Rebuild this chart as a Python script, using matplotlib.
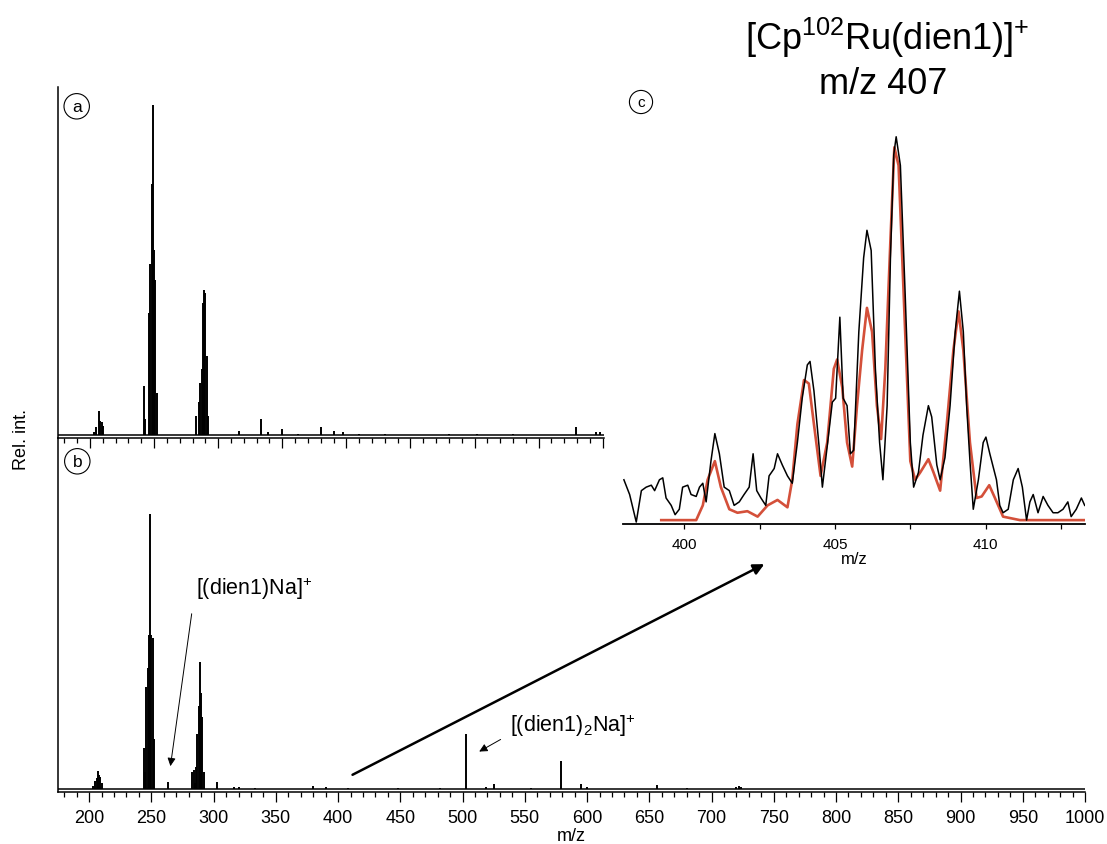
import matplotlib
matplotlib.use("Agg")
import matplotlib.pyplot as plt
from matplotlib.ticker import MultipleLocator, FixedLocator

plt.rcParams['font.family'] = ['Liberation Sans', 'DejaVu Sans']
plt.rcParams['mathtext.fontset'] = 'custom'
plt.rcParams['mathtext.rm'] = 'Liberation Sans'
plt.rcParams['mathtext.it'] = 'Liberation Sans:italic'
plt.rcParams['mathtext.bf'] = 'Liberation Sans:bold'

# ---------------- data ----------------
# panel a: peak positions (m/z) and relative intensities
mz_a = [203, 205, 207, 208, 209, 210,
        242, 243, 246, 247, 248, 249, 250, 251, 252,
        283, 285, 286, 287, 288, 289, 290, 291, 292,
        316, 333, 339, 350, 362, 380, 390, 397, 410, 430, 480, 502, 530, 579, 595, 598]
int_a = [0.01, 0.025, 0.074, 0.045, 0.04, 0.03,
         0.15, 0.05, 0.37, 0.52, 0.76, 1.0, 0.56, 0.47, 0.13,
         0.06, 0.10, 0.16, 0.20, 0.40, 0.44, 0.43, 0.24, 0.06,
         0.015, 0.05, 0.01, 0.02, 0.006, 0.025, 0.015, 0.01, 0.005, 0.004, 0.004, 0.005, 0.004, 0.025, 0.01, 0.012]

# panel b
mz_b = [203, 205, 206, 207, 208, 209, 210,
        244, 245, 246, 247, 248, 249, 250, 251, 252,
        263, 283, 284, 285, 286, 287, 288, 289, 290, 291, 292,
        303, 316, 320, 333, 380, 390, 408, 448, 482, 503, 519, 525, 555, 579, 595, 600, 656, 680, 720, 722, 724]
int_b = [0.01, 0.03, 0.04, 0.067, 0.05, 0.045, 0.02,
         0.15, 0.06, 0.37, 0.44, 0.56, 1.0, 0.56, 0.55, 0.18,
         0.024, 0.06, 0.07, 0.02, 0.08, 0.20, 0.30, 0.46, 0.35, 0.26, 0.06,
         0.024, 0.006, 0.008, 0.005, 0.012, 0.008, 0.005, 0.005, 0.005, 0.20, 0.006, 0.018, 0.005, 0.103, 0.018, 0.006, 0.013, 0.005, 0.008, 0.01, 0.008]

# panel c: measured (black) and simulated (red) isotope pattern
mz_meas = [397.99, 398.18, 398.40, 398.57, 398.73, 398.90, 399.01, 399.17, 399.28, 399.39, 399.56, 399.69,
           399.83, 399.94, 400.11, 400.22, 400.39, 400.50, 400.61, 400.72, 400.88, 401.01, 401.16, 401.32,
           401.49, 401.65, 401.82, 401.98, 402.15, 402.28, 402.40, 402.54, 402.70, 402.81, 402.98, 403.09,
           403.25, 403.42, 403.58, 403.75, 403.91, 404.08, 404.17, 404.30, 404.47, 404.58, 404.74, 404.91,
           405.02, 405.16, 405.27, 405.40, 405.51, 405.62, 405.79, 405.95, 406.06, 406.20, 406.34, 406.48,
           406.59, 406.73, 406.84, 406.95, 407.03, 407.17, 407.33, 407.50, 407.61, 407.77, 407.92, 408.10,
           408.21, 408.38, 408.49, 408.65, 408.82, 408.99, 409.13, 409.26, 409.37, 409.48, 409.59, 409.76,
           409.92, 410.01, 410.14, 410.36, 410.47, 410.58, 410.75, 410.92, 411.08, 411.22, 411.36, 411.47,
           411.58, 411.74, 411.91, 412.07, 412.24, 412.40, 412.57, 412.73, 412.84, 413.01, 413.18, 413.29]
int_meas = [0.114, 0.076, 0.005, 0.086, 0.095, 0.100, 0.086, 0.114, 0.119, 0.067, 0.048, 0.024,
            0.038, 0.095, 0.100, 0.076, 0.071, 0.095, 0.105, 0.057, 0.162, 0.233, 0.181, 0.095,
            0.086, 0.048, 0.057, 0.076, 0.095, 0.181, 0.086, 0.067, 0.048, 0.124, 0.143, 0.181,
            0.152, 0.124, 0.105, 0.210, 0.324, 0.410, 0.419, 0.343, 0.200, 0.095, 0.200, 0.314,
            0.324, 0.533, 0.324, 0.305, 0.181, 0.190, 0.495, 0.686, 0.757, 0.705, 0.400, 0.210,
            0.114, 0.305, 0.686, 0.952, 0.998, 0.924, 0.590, 0.210, 0.095, 0.133, 0.229, 0.305,
            0.276, 0.152, 0.114, 0.171, 0.305, 0.495, 0.600, 0.495, 0.305, 0.162, 0.038, 0.114,
            0.210, 0.224, 0.181, 0.114, 0.048, 0.029, 0.038, 0.114, 0.143, 0.095, 0.010, 0.057,
            0.076, 0.029, 0.071, 0.048, 0.029, 0.029, 0.038, 0.057, 0.019, 0.038, 0.067, 0.048]

mz_sim = [399.23, 400.39, 400.61, 400.77, 401.01, 401.21, 401.49, 401.76, 402.09, 402.43, 402.76, 403.09,
          403.42, 403.58, 403.75, 403.97, 404.13, 404.30, 404.52, 404.74, 404.96, 405.07, 405.24, 405.40,
          405.57, 405.73, 405.90, 406.06, 406.23, 406.39, 406.53, 406.67, 406.84, 406.97, 407.11, 407.28,
          407.50, 407.66, 407.83, 408.10, 408.27, 408.49, 408.71, 408.93, 409.10, 409.26, 409.48, 409.70,
          409.87, 410.12, 410.31, 410.58, 411.14, 413.29]
int_sim = [0.010, 0.010, 0.048, 0.114, 0.162, 0.095, 0.038, 0.029, 0.033, 0.019, 0.048, 0.062,
           0.043, 0.114, 0.257, 0.371, 0.362, 0.257, 0.124, 0.210, 0.400, 0.424, 0.352, 0.210,
           0.148, 0.305, 0.448, 0.557, 0.495, 0.305, 0.219, 0.400, 0.733, 0.971, 0.924, 0.590,
           0.162, 0.114, 0.133, 0.167, 0.133, 0.086, 0.257, 0.448, 0.548, 0.448, 0.210, 0.067,
           0.071, 0.100, 0.067, 0.019, 0.010, 0.010]

main_ticks = [200, 250, 300, 350, 400, 450, 500, 550, 600, 650, 700, 750, 800, 850, 900, 950, 1000]
inset_ticks = [400, 405, 410]

# ---------------- figure ----------------
W, H = 1107, 845
fig = plt.figure(figsize=(W / 100, H / 100), dpi=100)

def rect(x0, y0, x1, y1):
    return [x0 / W, 1 - y1 / H, (x1 - x0) / W, (y1 - y0) / H]

ax_b = fig.add_axes(rect(58, 439, 1085, 793))
ax_a = fig.add_axes(rect(58, 88, 604, 439))
ax_c = fig.add_axes(rect(622.7, 129, 1085, 525))

spine_lw = 1.1
for ax in (ax_a, ax_b):
    ax.spines['top'].set_visible(False)
    ax.spines['right'].set_visible(False)
    ax.spines['left'].set_linewidth(spine_lw)
    ax.spines['bottom'].set_linewidth(spine_lw)
    ax.set_yticks([])
    ax.patch.set_alpha(0)
    ax.xaxis.set_minor_locator(MultipleLocator(10))
    ax.tick_params(axis='x', which='major', direction='out', length=7.2, width=0.9)
    ax.tick_params(axis='x', which='minor', direction='out', length=3.6, width=0.9)

# panel a
ax_a.vlines(mz_a, 0, int_a, color='black', lw=1.4)
ax_a.axhline(0, color='black', lw=1.1)
ax_a.set_xlim(175, 601)
ax_a.set_ylim(-0.0076, 1.054)
ax_a.xaxis.set_major_locator(FixedLocator(main_ticks))
ax_a.tick_params(axis='x', labelbottom=False)

# panel b
ax_b.vlines(mz_b, 0, int_b, color='black', lw=1.4)
ax_b.axhline(0, color='black', lw=1.1)
ax_b.set_xlim(175, 1000)
ax_b.set_ylim(-0.011, 1.276)
ax_b.xaxis.set_major_locator(FixedLocator(main_ticks))
ax_b.tick_params(axis='x', labelsize=13, pad=5)
ax_b.set_xlabel('m/z', fontsize=13, labelpad=1)

# panel c (inset)
ax_c.patch.set_alpha(0)
for s in ('top', 'right', 'left'):
    ax_c.spines[s].set_visible(False)
ax_c.spines['bottom'].set_linewidth(1.3)
ax_c.plot(mz_sim, int_sim, color='#d4503a', lw=1.9)
ax_c.plot(mz_meas, int_meas, color='black', lw=1.1)
ax_c.set_xlim(397.95, 413.3)
ax_c.set_ylim(0, 1.0206)
ax_c.set_yticks([])
ax_c.xaxis.set_major_locator(FixedLocator(inset_ticks))
ax_c.xaxis.set_minor_locator(FixedLocator([402.5, 407.5, 412.5]))
ax_c.tick_params(axis='x', which='both', direction='out', length=3.6, width=0.9, labelsize=11, pad=6)
ax_c.set_xlabel('m/z', fontsize=12, labelpad=0)

# annotations in panel b
ax_b.annotate('', xy=(744.4, 0.822), xytext=(409.6, 0.047),
              arrowprops=dict(arrowstyle='-|>', lw=1.8, color='black', mutation_scale=16),
              annotation_clip=False)
ax_b.annotate('', xy=(265, 0.073), xytext=(282.7, 0.647),
              arrowprops=dict(arrowstyle='-|>', lw=0.7, color='black', mutation_scale=12),
              annotation_clip=False)
ax_b.annotate('', xy=(511.4, 0.131), xytext=(532.5, 0.185),
              arrowprops=dict(arrowstyle='-|>', lw=0.7, color='black', mutation_scale=12),
              annotation_clip=False)
ax_b.text(286.2, 0.709, r'$\mathrm{[(dien1)Na]^{+}}$', fontsize=15.5, ha='left', va='baseline')
ax_b.text(538.2, 0.212, r'$\mathrm{[(dien1)_{2}Na]^{+}}$', fontsize=15.5, ha='left', va='baseline')

# circled panel labels
circ = dict(boxstyle='circle,pad=0.3', fc='white', ec='black', lw=0.8)
fig.text(76.7 / W, 1 - 107.3 / H, 'a', fontsize=12.5, ha='center', va='center', bbox=circ)
fig.text(77.3 / W, 1 - 462.3 / H, 'b', fontsize=12.5, ha='center', va='center', bbox=circ)
fig.text(641 / W, 1 - 103 / H, 'c', fontsize=11, ha='center', va='center', bbox=circ)

# title of inset
fig.text(887 / W, 1 - 38 / H, r'$\mathrm{[Cp^{102}Ru(dien1)]^{+}}$', fontsize=26, ha='center', va='center')
fig.text(883 / W, 1 - 84 / H, 'm/z 407', fontsize=26, ha='center', va='center')

# y label
fig.text(21.7 / W, 1 - 440 / H, 'Rel. int.', fontsize=13, rotation=90, ha='center', va='center')

fig.savefig('out.png', dpi=100)
